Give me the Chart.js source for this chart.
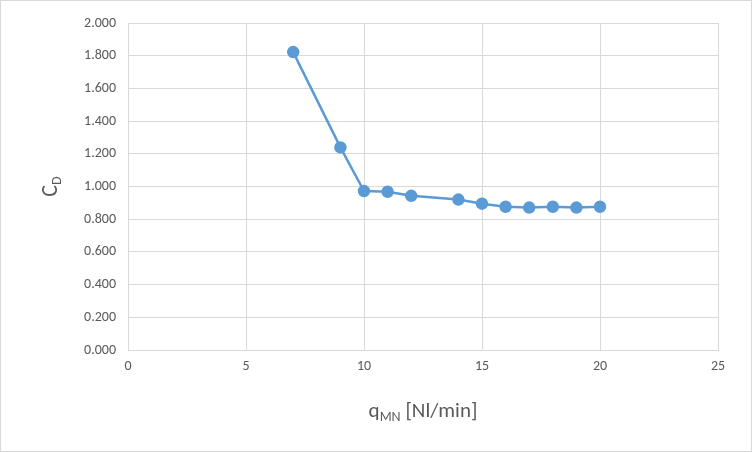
<!DOCTYPE html>
<html><head><meta charset="utf-8">
<script src="https://cdn.jsdelivr.net/npm/chart.js@4"></script>
<style>html,body{margin:0;padding:0;background:#fff}#w{width:750px;height:450px;border:1px solid #d9d9d9;position:relative}</style>
</head><body><div id="w"><canvas id="c"></canvas></div>
<script>
const xValues=[7,9,10,11,12,14,15,16,17,18,19,20];
const cdValues=[1.822,1.239,0.972,0.968,0.943,0.920,0.895,0.876,0.871,0.876,0.871,0.876];
const xTicks=[0,5,10,15,20,25];
const yTicks=[0,0.2,0.4,0.6,0.8,1.0,1.2,1.4,1.6,1.8,2.0];
const F='Calibri, Carlito, "Open Sans", sans-serif';
const titles={id:'titles',afterDraw(ch){const c=ch.ctx,a=ch.chartArea;c.save();c.fillStyle='#595959';
 c.textBaseline='alphabetic';
 let cx=(a.left+a.right)/2, y=416;
 const q='q',sub='MN',rest=' [Nl/min]';
 c.font='21px '+F;const wq=c.measureText(q).width,wr=c.measureText(rest).width;
 c.font='14px '+F;const ws=c.measureText(sub).width;
 let x0=cx-(wq+ws+wr)/2;
 c.font='21px '+F;c.fillText(q,x0,y);c.font='14px '+F;c.fillText(sub,x0+wq,y+4);c.font='21px '+F;c.fillText(rest,x0+wq+ws,y);
 c.translate(56,(a.top+a.bottom)/2);c.rotate(-Math.PI/2);
 c.font='22px '+F;const wc=c.measureText('C').width;c.font='14px '+F;const wd=c.measureText('D').width;
 let s=-(wc+wd)/2;c.font='22px '+F;c.fillText('C',s,0);c.font='14px '+F;c.fillText('D',s+wc,4);
 c.restore();}};
new Chart(document.getElementById('c'),{type:'scatter',
 data:{datasets:[{data:xValues.map((x,i)=>({x,y:cdValues[i]})),showLine:true,borderColor:'#5b9bd5',backgroundColor:'#5b9bd5',borderWidth:2.5,pointRadius:5,pointHoverRadius:5}]},
 options:{responsive:true,maintainAspectRatio:false,animation:false,
  layout:{padding:{top:22,right:33,left:0,bottom:0}},
  plugins:{legend:{display:false},tooltip:{enabled:false}},
  scales:{
   x:{type:'linear',min:0,max:25,afterBuildTicks:s=>{s.ticks=xTicks.map(v=>({value:v}))},
      afterFit:s=>{s.height=101},
      grid:{color:'#d9d9d9',drawTicks:false},border:{color:'#d9d9d9'},
      ticks:{color:'#595959',font:{size:14,family:F},padding:8}},
   y:{min:0,max:2,afterBuildTicks:s=>{s.ticks=yTicks.map(v=>({value:v}))},
      afterFit:s=>{s.width=127},
      grid:{color:'#d9d9d9',drawTicks:false},border:{display:false},
      ticks:{color:'#595959',font:{size:14,family:F},padding:12,callback:v=>v.toFixed(3)}}}},
 plugins:[titles]});
</script></body></html>
